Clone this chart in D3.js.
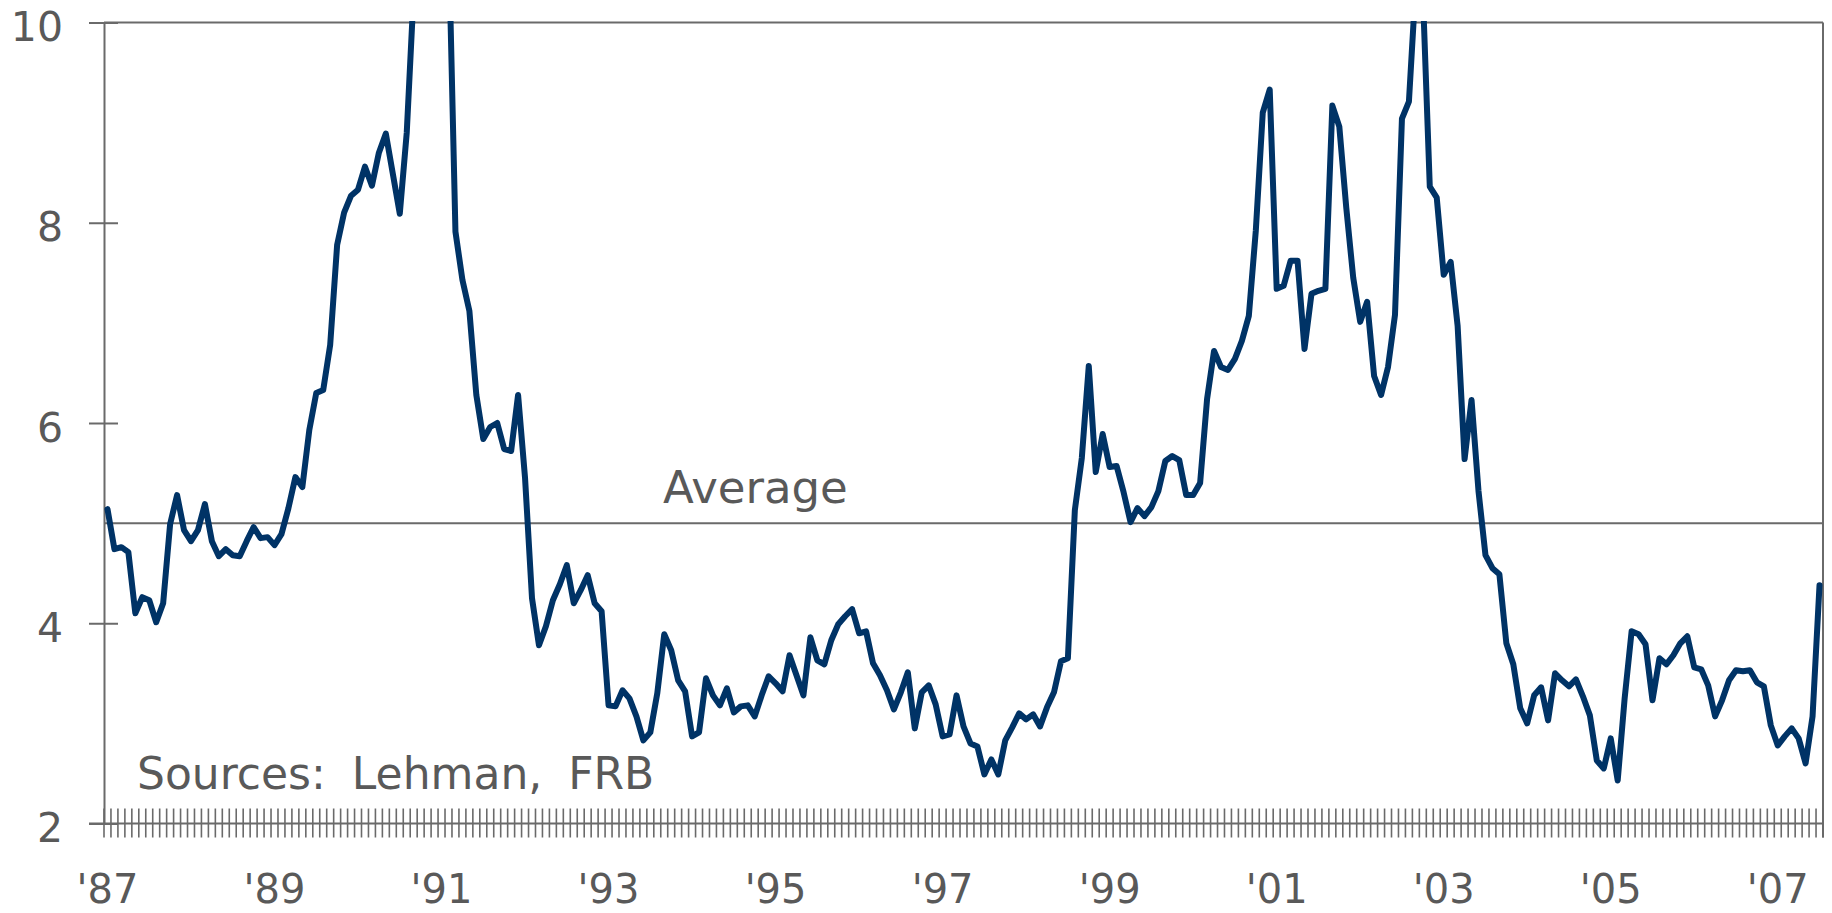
<!DOCTYPE html>
<html><head><meta charset="utf-8">
<script src="https://cdn.jsdelivr.net/npm/d3@7"></script>
<style>
html,body{margin:0;padding:0;background:#fff;}
svg{display:block;font-family:"DejaVu Sans",Verdana,sans-serif;}
</style></head><body>
<svg id="chart" width="1832" height="913"></svg>
<script>
// Monthly spread, Jan 1987 .. Jul 2007 (percentage points)
const spread = [
  5.14,4.74,4.76,4.71,4.10,4.26,4.23,4.01,4.20,4.99,5.28,4.93,   // 1987
  4.82,4.93,5.19,4.82,4.67,4.74,4.68,4.67,4.82,4.96,4.85,4.86,   // 1988
  4.78,4.89,5.15,5.46,5.36,5.93,6.30,6.33,6.78,7.78,8.10,8.27,   // 1989
  8.33,8.56,8.37,8.70,8.89,8.49,8.09,8.90,10.3,10.6,10.8,10.9,   // 1990
  11.0,10.9,7.91,7.43,7.12,6.28,5.84,5.96,6.00,5.74,5.72,6.28,   // 1991
  5.45,4.25,3.78,3.97,4.23,4.39,4.58,4.20,4.33,4.48,4.20,4.12,   // 1992
  3.18,3.17,3.33,3.25,3.07,2.83,2.91,3.30,3.89,3.73,3.43,3.32,   // 1993
  2.87,2.91,3.45,3.28,3.18,3.35,3.11,3.17,3.18,3.07,3.28,3.47,   // 1994
  3.40,3.32,3.68,3.48,3.28,3.86,3.63,3.59,3.83,3.99,4.07,4.14,   // 1995
  3.90,3.92,3.60,3.48,3.33,3.14,3.31,3.51,2.95,3.31,3.38,3.19,   // 1996
  2.87,2.89,3.28,2.97,2.80,2.77,2.49,2.64,2.49,2.83,2.96,3.10,   // 1997
  3.04,3.09,2.97,3.16,3.31,3.62,3.65,5.13,5.65,6.57,5.51,5.89,   // 1998
  5.56,5.57,5.31,5.01,5.15,5.07,5.16,5.32,5.62,5.67,5.63,5.28,   // 1999
  5.28,5.40,6.24,6.72,6.56,6.53,6.64,6.82,7.07,7.92,9.10,9.33,   // 2000
  7.34,7.37,7.62,7.62,6.74,7.29,7.32,7.34,9.17,8.96,8.15,7.45,   // 2001
  7.01,7.21,6.47,6.28,6.56,7.08,9.04,9.21,10.4,10.3,8.36,8.25,   // 2002
  7.48,7.61,6.97,5.64,6.23,5.32,4.68,4.55,4.49,3.80,3.59,3.15,   // 2003
  3.00,3.28,3.36,3.03,3.50,3.43,3.37,3.44,3.27,3.08,2.63,2.55,   // 2004
  2.85,2.43,3.25,3.92,3.89,3.79,3.23,3.65,3.59,3.68,3.80,3.87,   // 2005
  3.56,3.54,3.38,3.07,3.23,3.43,3.53,3.52,3.53,3.41,3.37,2.98,   // 2006
  2.78,2.87,2.95,2.85,2.60,3.07,4.38                             // 2007
];
const yTicks = [2, 4, 6, 8, 10];
const xLabelMonths = [0, 24, 48, 72, 96, 120, 144, 168, 192, 216, 240];
const xTickLabels = ["'87","'89","'91","'93","'95","'97","'99","'01","'03","'05","'07"];
const averageValue = 5;
const averageLabel = "Average";
const sourceNote = "Sources: Lehman, FRB";

const W = 1832, H = 913;
const L = 104, R = 1823, T = 22.5, B = 823.5;
const axisColor = "#6a6a6a", textColor = "#595959", lineColor = "#003366";

const svg = d3.select("#chart");
svg.append("rect").attr("width", W).attr("height", H).attr("fill", "#fff");

const x = d3.scaleBand().domain(d3.range(spread.length)).range([L, R]).paddingInner(0).paddingOuter(0);
const y = d3.scaleLinear().domain([2, 10]).range([B, T]);
const cx = i => x(i) + x.bandwidth() / 2;

// frame (top and right)
svg.append("line").attr("x1", L).attr("x2", R).attr("y1", T).attr("y2", T)
  .attr("stroke", axisColor).attr("stroke-width", 2);
svg.append("line").attr("x1", R).attr("x2", R).attr("y1", T).attr("y2", B + 14)
  .attr("stroke", axisColor).attr("stroke-width", 2);

// average line
svg.append("line").attr("x1", L).attr("x2", R).attr("y1", y(averageValue)).attr("y2", y(averageValue))
  .attr("stroke", axisColor).attr("stroke-width", 2);

// y axis
const yAxis = d3.axisLeft(y).tickValues(yTicks).tickFormat(d3.format("d")).tickSize(15).tickPadding(26);
const gy = svg.append("g").attr("transform", `translate(${L},0)`).call(yAxis);
gy.select(".domain").attr("stroke", axisColor).attr("stroke-width", 2);
gy.selectAll(".tick line").attr("x1", 14).attr("x2", -15).attr("stroke", axisColor).attr("stroke-width", 2);
gy.selectAll(".tick text").attr("dy", 18).attr("fill", textColor)
  .style("font-size", "41px").style("font-family", "'DejaVu Sans', Verdana, sans-serif");

// x axis: base line, monthly ticks at boundaries, labels at month centres
svg.append("line").attr("x1", L - 15).attr("x2", R).attr("y1", B).attr("y2", B)
  .attr("stroke", axisColor).attr("stroke-width", 2);
const boundaries = x.domain().map(i => x(i)).concat([R]);
svg.append("g").selectAll("line").data(boundaries).join("line")
  .attr("x1", d => d).attr("x2", d => d).attr("y1", B - 15).attr("y2", B + 14)
  .attr("stroke", axisColor).attr("stroke-width", 1.6);
svg.append("g").selectAll("text").data(xLabelMonths).join("text")
  .attr("x", d => cx(d)).attr("y", 903).attr("text-anchor", "middle")
  .attr("fill", textColor).style("font-size", "40px")
  .text((d, i) => xTickLabels[i]);

// annotations
svg.append("text").attr("x", 663).attr("y", 503).attr("fill", textColor)
  .style("font-size", "45px").text(averageLabel);
svg.append("text").attr("x", 137).attr("y", 789).attr("fill", textColor)
  .style("font-size", "44px").style("word-spacing", "12px").text(sourceNote);

// clip for the series
svg.append("clipPath").attr("id", "plotclip").append("rect")
  .attr("x", L).attr("y", T - 1.5).attr("width", R - L).attr("height", B - T + 20);

const line = d3.line().x((d, i) => cx(i)).y(d => y(d)).curve(d3.curveLinear);
svg.append("path").datum(spread).attr("d", line)
  .attr("clip-path", "url(#plotclip)")
  .attr("fill", "none").attr("stroke", lineColor).attr("stroke-width", 6)
  .attr("stroke-linejoin", "round").attr("stroke-linecap", "round");
</script>
</body></html>
